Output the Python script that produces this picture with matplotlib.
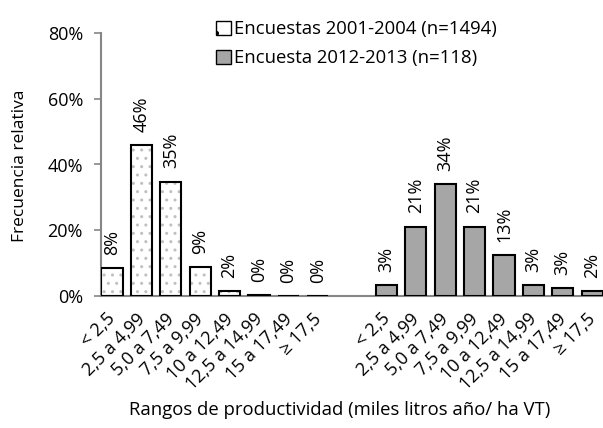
import matplotlib.pyplot as plt
import matplotlib.transforms as mtransforms
import numpy as np

plt.rcParams["font.family"] = ["Open Sans", "DejaVu Sans"]
plt.rcParams["hatch.linewidth"] = 1.0

RANGOS = ["< 2,5", "2,5 a 4,99", "5,0 a 7,49", "7,5 a 9,99",
          "10 a 12,49", "12,5 a 14,99", "15 a 17,49", "≥ 17,5"]
FREC_2001 = [8.4, 45.9, 34.8, 8.7, 1.4, 0.3, 0.0, 0.0]
ETIQ_2001 = ["8%", "46%", "35%", "9%", "2%", "0%", "0%", "0%"]
FREC_2012 = [3.3, 21.1, 34.0, 21.1, 12.5, 3.3, 2.5, 1.6]
ETIQ_2012 = ["3%", "21%", "34%", "21%", "13%", "3%", "3%", "2%"]

GROUP_OFFSET = 9.33
BAR_W = 0.72
FS = 13

fig = plt.figure(figsize=(6.03, 4.28), dpi=100)
ax = fig.add_axes([101 / 603, 132 / 428, 502 / 603, 263 / 428])

x1 = np.arange(len(RANGOS))
x2 = x1 + GROUP_OFFSET

# hatched fill, then black outline on top
ax.bar(x1, FREC_2001, width=BAR_W, color="white", edgecolor="#c0c0c0",
       hatch="..", linewidth=0, zorder=2)
ax.bar(x1, FREC_2001, width=BAR_W, color="none", edgecolor="black",
       linewidth=1.5, zorder=3)
ax.bar(x2, FREC_2012, width=BAR_W, color="#a6a6a6", edgecolor="black",
       linewidth=1.5, zorder=3)

# legend proxies
ax.bar([0], [0], color="white", edgecolor="black", hatch=".", linewidth=1,
       label="Encuestas 2001-2004 (n=1494)")
ax.bar([0], [0], color="#a6a6a6", edgecolor="black", linewidth=1,
       label="Encuesta 2012-2013 (n=118)")

for xs, vals, labels in [(x1, FREC_2001, ETIQ_2001), (x2, FREC_2012, ETIQ_2012)]:
    for x, v, t in zip(xs, vals, labels):
        ax.text(x, v + 4.0, t, rotation=90, ha="center", va="bottom",
                fontsize=FS)

ax.set_xlim(-0.374, 16.7)
ax.set_ylim(0, 80)
ax.set_yticks([0, 20, 40, 60, 80])
ax.set_yticklabels(["0%", "20%", "40%", "60%", "80%"], fontsize=FS)
ax.set_xticks(list(x1) + list(x2))
ax.set_xticklabels(RANGOS + RANGOS, rotation=45, ha="right",
                   rotation_mode="anchor", fontsize=FS)
ax.tick_params(axis="x", length=0, pad=10)
ax.tick_params(axis="y", length=5, color="#868686", width=1.2, pad=8)

shift = mtransforms.ScaledTranslation(-4 / 72, 0, fig.dpi_scale_trans)
for lbl in ax.get_xticklabels():
    lbl.set_transform(lbl.get_transform() + shift)

for side in ["top", "right"]:
    ax.spines[side].set_visible(False)
for side in ["left", "bottom"]:
    ax.spines[side].set_color("#868686")
    ax.spines[side].set_linewidth(1.5)

fig.text(0.033, 0.612, "Frecuencia relativa", rotation=90, ha="center",
         va="center", fontsize=12.5)
fig.text(0.564, 0.042, "Rangos de productividad (miles litros año/ ha VT)",
         ha="center", va="center", fontsize=13.3)

handles, lbls = ax.get_legend_handles_labels()
fig.legend(handles, lbls, loc="upper left",
           bbox_to_anchor=(216 / 603, 1 - 20 / 428),
           frameon=False, fontsize=13.3, handlelength=0.8, handleheight=0.8,
           handletextpad=0.2, labelspacing=0.62, borderpad=0,
           borderaxespad=0)

fig.savefig("out.png", dpi=100)
